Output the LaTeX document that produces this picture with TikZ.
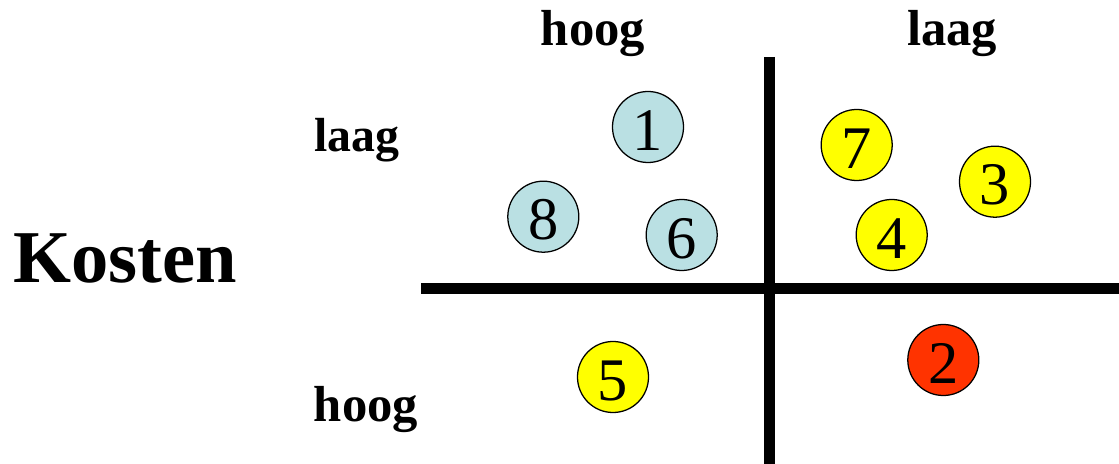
\documentclass[tikz,border=0pt]{standalone}
\usepackage{fontspec}
\setmainfont{Liberation Serif}
\usetikzlibrary{positioning}
\definecolor{lichtblauw}{RGB}{186,224,227}
\definecolor{geel}{RGB}{255,255,0}
\definecolor{rood}{RGB}{255,51,0}

\begin{document}
\begin{tikzpicture}[x=0.025cm,y=-0.025cm,
    project/.style={circle,draw,line width=0.9pt,minimum size=1.775cm,inner sep=0pt,
      text height=33pt,text depth=0pt,font=\fontsize{43}{43}\selectfont},
    kop/.style={anchor=base,font=\fontsize{36}{36}\selectfont\bfseries},
    as/.style={line width=8.5pt}]
  \useasboundingbox (0,0) rectangle (1119,464);
  % assen
  \coordinate (boven) at (769.5,57);
  \coordinate (onder) at (769.5,464);
  \coordinate (links) at (421,288.5);
  \coordinate (rechts) at (1119,288.5);
  \draw[as] (boven) -- (onder);
  \draw[as] (links) -- (rechts);
  % opschriften
  \node[kop] (hoogx) at (593,45.7) {hoog};
  \node[kop] (laagx) at (952,45.7) {laag};
  \node[kop,font=\fontsize{34}{34}\selectfont\bfseries] (laagy) at (357,152) {laag};
  \node[kop] (hoogy) at (366,422) {hoog};
  \node[anchor=base,font=\fontsize{53}{53}\selectfont\bfseries] (kosten) at (125,283) {Kosten};
  % projecten
  \node[project,fill=lichtblauw] (p1) at (648,127) {1};
  \node[project,fill=lichtblauw] (p8) at (543.3,216.7) {8};
  \node[project,fill=lichtblauw] (p6) at (681.7,235) {6};
  \node[project,fill=geel] (p7) at (856.7,145) {7};
  \node[project,fill=geel] (p3) at (995,181.7) {3};
  \node[project,fill=geel] (p4) at (891.7,235) {4};
  \node[project,fill=geel] (p5) at (613,377) {5};
  \node[project,fill=rood] (p2) at (943.3,360) {2};
\end{tikzpicture}
\end{document}
